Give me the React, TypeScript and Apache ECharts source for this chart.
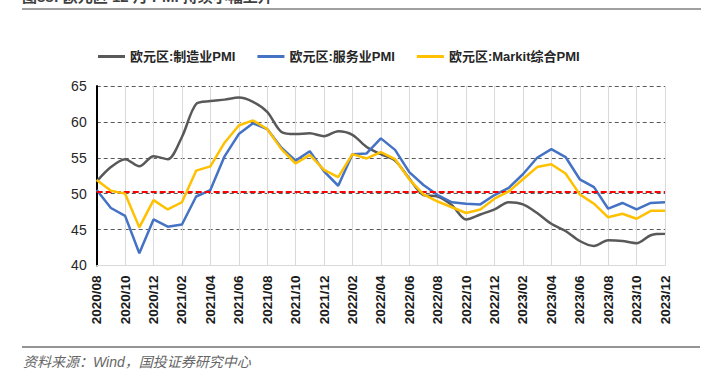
import React, { useEffect, useRef } from "react";
import * as echarts from "echarts";

const months = [
  "2020/08","2020/09","2020/10","2020/11","2020/12",
  "2021/01","2021/02","2021/03","2021/04","2021/05","2021/06","2021/07","2021/08","2021/09","2021/10","2021/11","2021/12",
  "2022/01","2022/02","2022/03","2022/04","2022/05","2022/06","2022/07","2022/08","2022/09","2022/10","2022/11","2022/12",
  "2023/01","2023/02","2023/03","2023/04","2023/05","2023/06","2023/07","2023/08","2023/09","2023/10","2023/11","2023/12",
];

const manufacturing = [
  51.7, 53.7, 54.8, 53.8, 55.2,
  54.8, 57.9, 62.5, 62.9, 63.1, 63.4, 62.8, 61.4, 58.6, 58.3, 58.4, 58.0,
  58.7, 58.2, 56.5, 55.5, 54.6, 52.1, 49.8, 49.6, 48.4, 46.4, 47.1, 47.8,
  48.8, 48.5, 47.3, 45.8, 44.8, 43.4, 42.7, 43.5, 43.4, 43.1, 44.2, 44.4,
];

const services = [
  50.5, 48.0, 46.9, 41.7, 46.4,
  45.4, 45.7, 49.6, 50.5, 55.2, 58.3, 59.8, 59.0, 56.4, 54.6, 55.9, 53.1,
  51.1, 55.5, 55.6, 57.7, 56.1, 53.0, 51.2, 49.8, 48.8, 48.6, 48.5, 49.8,
  50.8, 52.7, 55.0, 56.2, 55.1, 52.0, 50.9, 47.9, 48.7, 47.8, 48.7, 48.8,
];

const composite = [
  51.9, 50.4, 50.0, 45.3, 49.1,
  47.8, 48.8, 53.2, 53.8, 57.1, 59.5, 60.2, 59.0, 56.2, 54.2, 55.4, 53.3,
  52.3, 55.5, 54.9, 55.8, 54.8, 52.0, 49.9, 48.9, 48.1, 47.3, 47.8, 49.3,
  50.3, 52.0, 53.7, 54.1, 52.8, 49.9, 48.6, 46.7, 47.2, 46.5, 47.6, 47.6,
];

const seriesNames = ["欧元区:制造业PMI", "欧元区:服务业PMI", "欧元区:Markit综合PMI"];
const seriesColors = ["#595959", "#4472C4", "#FFC000"];
const thresholdLine = 50.2;
const yTicks = { min: 40, max: 65, interval: 5 };

const titleText = "图88: 欧元区 12 月 PMI 持续小幅上升";
const sourceText = "资料来源：Wind，国投证券研究中心";

export default function App() {
  const ref = useRef<HTMLDivElement>(null);

  useEffect(() => {
    if (!ref.current) return;
    const chart = echarts.init(ref.current, null, { renderer: "svg" });
    const cjk = "'Liberation Sans', 'Noto Sans CJK SC', sans-serif";
    chart.setOption({
      animation: false,
      backgroundColor: "#ffffff",
      textStyle: { fontFamily: cjk },
      graphic: [
        {
          type: "text",
          left: 22,
          top: -11,
          style: { text: titleText, fontSize: 15, fontWeight: "bold", fill: "#404040", fontFamily: cjk },
        },
        {
          type: "line",
          shape: { x1: 22, y1: 9, x2: 701, y2: 9 },
          style: { stroke: "#a0a0a0", lineWidth: 2 },
        },
        {
          type: "line",
          shape: { x1: 22, y1: 347, x2: 700, y2: 347 },
          style: { stroke: "#707070", lineWidth: 1.5 },
        },
        {
          type: "text",
          left: 23,
          top: 355,
          style: { text: sourceText, fontSize: 14, fontStyle: "italic", fill: "#666666", fontFamily: cjk },
        },
      ],
      legend: {
        left: 93,
        top: 45,
        icon: "rect",
        itemWidth: 27,
        itemHeight: 3,
        itemGap: 22,
        textStyle: { fontSize: 13, fontWeight: "bold", color: "#262626", fontFamily: cjk },
        data: seriesNames,
      },
      grid: { left: 96.7, right: 38, top: 86, bottom: 111.6, containLabel: false },
      xAxis: {
        type: "category",
        data: months,
        boundaryGap: false,
        axisLine: { show: true, lineStyle: { color: "#d9d9d9", width: 1 } },
        axisTick: { show: false },
        axisLabel: {
          interval: 1,
          rotate: 90,
          fontSize: 13.5,
          fontWeight: "bold",
          color: "#1a1a1a",
          margin: 10,
          fontFamily: "'Liberation Sans', sans-serif",
        },
        splitLine: { show: true, interval: 1, lineStyle: { color: "#d9d9d9", width: 1 } },
      },
      yAxis: {
        type: "value",
        min: yTicks.min,
        max: yTicks.max,
        interval: yTicks.interval,
        axisLine: { show: true, lineStyle: { color: "#000000", width: 2 } },
        axisTick: { show: false },
        axisLabel: { fontSize: 14, color: "#262626", margin: 10, fontFamily: "'Liberation Sans', sans-serif" },
        splitLine: { show: true, lineStyle: { color: "#595959", width: 1, type: [4, 3] } },
      },
      series: [
        {
          name: seriesNames[0],
          type: "line",
          data: manufacturing,
          smooth: 0.3,
          showSymbol: false,
          symbol: "none",
          lineStyle: { color: seriesColors[0], width: 2.5 },
          itemStyle: { color: seriesColors[0] },
          z: 3,
        },
        {
          name: seriesNames[1],
          type: "line",
          data: services,
          showSymbol: false,
          symbol: "none",
          lineStyle: { color: seriesColors[1], width: 2.5 },
          itemStyle: { color: seriesColors[1] },
          z: 4,
        },
        {
          name: seriesNames[2],
          type: "line",
          data: composite,
          showSymbol: false,
          symbol: "none",
          lineStyle: { color: seriesColors[2], width: 2.5 },
          itemStyle: { color: seriesColors[2] },
          z: 5,
          markLine: {
            silent: true,
            symbol: "none",
            label: { show: false },
            lineStyle: { color: "#FF0000", width: 2, type: [6, 3] },
            data: [{ yAxis: thresholdLine }],
          },
        },
      ],
    });
    return () => chart.dispose();
  }, []);

  return (
    <div
      ref={ref}
      style={{ position: "absolute", left: 0, top: 0, width: 703, height: 377 }}
    />
  );
}
